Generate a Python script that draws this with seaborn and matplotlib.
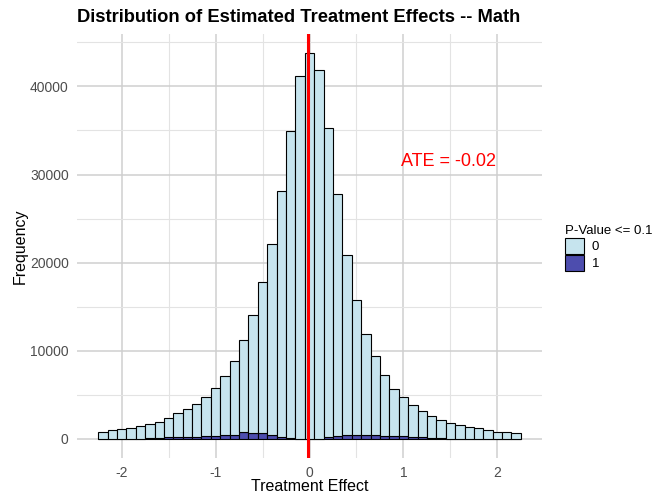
import numpy as np
import pandas as pd
import matplotlib
matplotlib.use("Agg")
import matplotlib.pyplot as plt
import seaborn as sns
from matplotlib.patches import Patch

# ---- data (bin centres, counts per significance group) ----
bin_centers = [-2.2, -2.1, -2.0, -1.9, -1.8, -1.7, -1.6, -1.5, -1.4, -1.3, -1.2,
               -1.1, -1.0, -0.9, -0.8, -0.7, -0.6, -0.5, -0.4, -0.3, -0.2, -0.1,
               0.0, 0.1, 0.2, 0.3, 0.4, 0.5, 0.6, 0.7, 0.8, 0.9, 1.0, 1.1, 1.2,
               1.3, 1.4, 1.5, 1.6, 1.7, 1.8, 1.9, 2.0, 2.1, 2.2]
total_counts = [800, 940, 1130, 1245, 1470, 1660, 1925, 2340, 2870, 3360, 3970,
                4760, 5780, 7140, 8880, 11230, 13990, 17800, 22120, 28090, 34940, 41180,
                43820, 41820, 35240, 27790, 20870, 15800, 11870, 9410, 7180, 5700, 4720, 3810, 3100,
                2530, 2150, 1770, 1510, 1280, 1170, 1020, 790, 715, 600]
sig_counts = [0, 0, 0, 0, 0, 30, 110, 150, 170, 230, 240,
              260, 330, 450, 460, 760, 680, 640, 450, 190, 80, 20,
              0, 10, 150, 340, 450, 460, 440, 380, 340, 330, 300, 230, 150,
              80, 30, 0, 0, 0, 0, 0, 0, 0, 0]
ate = -0.02
x_ticks = [-2, -1, 0, 1, 2]
y_ticks = [0, 10000, 20000, 30000, 40000]
groups = ["0", "1"]

nonsig_counts = [t - s for t, s in zip(total_counts, sig_counts)]
df = pd.DataFrame({
    "effect": bin_centers * 2,
    "count": nonsig_counts + sig_counts,
    "sig": [groups[0]] * len(bin_centers) + [groups[1]] * len(bin_centers),
})

col0 = "#C6E4EE"
col1 = "#4D4DAE"
palette = {groups[0]: col0, groups[1]: col1}

plt.rcParams["font.family"] = ["Liberation Sans", "DejaVu Sans"]

fig = plt.figure(figsize=(6.58, 4.99), dpi=100)
ax = fig.add_axes([77 / 658, 1 - 458 / 499, (542 - 77) / 658, (458 - 33.5) / 499])

sns.histplot(data=df, x="effect", weights="count", hue="sig", hue_order=groups,
             multiple="stack", binwidth=0.1, binrange=(-2.25, 2.25),
             palette=palette, alpha=1, edgecolor="black", linewidth=0.8,
             ax=ax, legend=False)

ax.axvline(ate, color="red", linewidth=2.2, zorder=5)
ax.text(1.48, 31500, f"ATE = {ate}", color="red", fontsize=13, ha="center", va="center")

ax.set_xlim(-2.475, 2.475)
ax.set_ylim(-2191, 46011)
ax.set_xticks(x_ticks)
ax.set_xticklabels([str(t) for t in x_ticks])
ax.set_yticks(y_ticks)
ax.set_yticklabels([str(t) for t in y_ticks])
ax.set_xticks([-1.5, -0.5, 0.5, 1.5], minor=True)
ax.set_yticks([5000, 15000, 25000, 35000, 45000], minor=True)
ax.grid(which="major", color="#CFCFCF", linewidth=1.1)
ax.grid(which="minor", color="#E3E3E3", linewidth=0.8)
ax.set_axisbelow(True)
for s in ax.spines.values():
    s.set_visible(False)
ax.tick_params(which="both", length=0, labelsize=10, labelcolor="#4D4D4D", pad=6)

ax.set_xlabel("Treatment Effect", fontsize=11.5, color="black")
ax.set_ylabel("Frequency", fontsize=11.5, color="black")
ax.xaxis.set_label_coords(0.5, -(486.7 - 458) / (458 - 33.5), transform=ax.transAxes)
ax.yaxis.set_label_coords(-(77 - 20) / (542 - 77), 0.5)
ax.xaxis.label.set_va("center")
ax.yaxis.label.set_va("center")

fig.text(77 / 658, 1 - 17 / 499, "Distribution of Estimated Treatment Effects -- Math",
         fontsize=13.2, fontweight="bold", ha="left", va="center")

handles = [Patch(facecolor=palette[g], edgecolor="black", linewidth=0.8, label=g) for g in groups]
leg = fig.legend(handles=handles, title="P-Value <= 0.1", loc="upper left",
                 bbox_to_anchor=(553 / 658, 1 - 213 / 499), frameon=False,
                 fontsize=9.5, title_fontsize=9.5, handlelength=1.45, handleheight=1.45,
                 labelspacing=0.1, handletextpad=0.6, alignment="left")

fig.savefig("out.png", dpi=100)
